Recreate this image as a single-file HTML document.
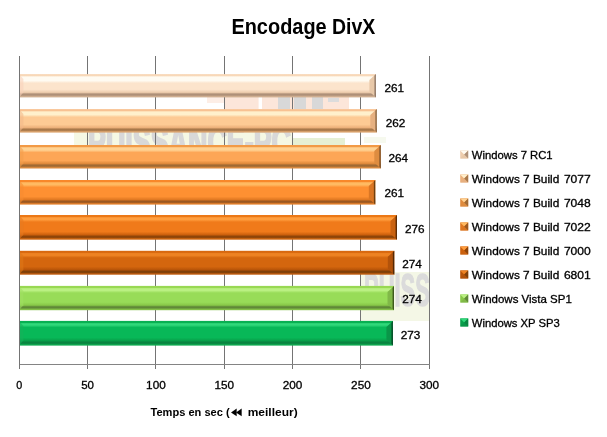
<!DOCTYPE html>
<html lang="fr"><head><meta charset="utf-8"><title>Encodage DivX</title>
<style>html,body{margin:0;padding:0;background:#fff;}body{width:607px;height:437px;overflow:hidden;}svg{display:block;}text{font-family:'Liberation Sans', Arial, sans-serif;fill:#000;}.r text{stroke:#000;stroke-width:0.3px;}</style>
</head><body>
<svg width="607" height="437" viewBox="0 0 607 437">
<defs>
<linearGradient id="g0" x1="0" y1="0" x2="0" y2="1"><stop offset="0.0000" stop-color="#F8D8B8"/><stop offset="0.0687" stop-color="#F8D8B8"/><stop offset="0.1202" stop-color="#FFFBF2"/><stop offset="0.2833" stop-color="#FFFBF2"/><stop offset="0.3863" stop-color="#FCE4CC"/><stop offset="0.6567" stop-color="#FCE4CC"/><stop offset="0.7854" stop-color="#EECDAE"/><stop offset="0.8541" stop-color="#AE9078"/><stop offset="0.9013" stop-color="#AE9078"/><stop offset="0.9614" stop-color="#CFAE90"/><stop offset="1.0000" stop-color="#CFAE90"/></linearGradient>
<linearGradient id="r0" x1="0" y1="0" x2="1" y2="0"><stop offset="0" stop-color="#E8C8A8"/><stop offset="0.7" stop-color="#E8C8A8"/><stop offset="0.86" stop-color="#8E7664"/><stop offset="1" stop-color="#8E7664"/></linearGradient>
<linearGradient id="g1" x1="0" y1="0" x2="0" y2="1"><stop offset="0.0000" stop-color="#F8C292"/><stop offset="0.0681" stop-color="#F8C292"/><stop offset="0.1191" stop-color="#FFF0CC"/><stop offset="0.2383" stop-color="#FFF0CC"/><stop offset="0.3404" stop-color="#FDCA94"/><stop offset="0.6596" stop-color="#FDCA94"/><stop offset="0.7872" stop-color="#ECB07A"/><stop offset="0.8553" stop-color="#A8784A"/><stop offset="0.9021" stop-color="#A8784A"/><stop offset="0.9617" stop-color="#DCA46E"/><stop offset="1.0000" stop-color="#DCA46E"/></linearGradient>
<linearGradient id="r1" x1="0" y1="0" x2="1" y2="0"><stop offset="0" stop-color="#E6B080"/><stop offset="0.7" stop-color="#E6B080"/><stop offset="0.86" stop-color="#8A6644"/><stop offset="1" stop-color="#8A6644"/></linearGradient>
<linearGradient id="g2" x1="0" y1="0" x2="0" y2="1"><stop offset="0.0000" stop-color="#F29A46"/><stop offset="0.0681" stop-color="#F29A46"/><stop offset="0.1191" stop-color="#FFD292"/><stop offset="0.2170" stop-color="#FFD292"/><stop offset="0.3191" stop-color="#FDA656"/><stop offset="0.6596" stop-color="#FDA656"/><stop offset="0.7872" stop-color="#E08A3C"/><stop offset="0.8553" stop-color="#A06A34"/><stop offset="0.9021" stop-color="#A06A34"/><stop offset="0.9617" stop-color="#DA8A40"/><stop offset="1.0000" stop-color="#DA8A40"/></linearGradient>
<linearGradient id="r2" x1="0" y1="0" x2="1" y2="0"><stop offset="0" stop-color="#DE8C40"/><stop offset="0.7" stop-color="#DE8C40"/><stop offset="0.86" stop-color="#7C5028"/><stop offset="1" stop-color="#7C5028"/></linearGradient>
<linearGradient id="g3" x1="0" y1="0" x2="0" y2="1"><stop offset="0.0000" stop-color="#F8882A"/><stop offset="0.0650" stop-color="#F8882A"/><stop offset="0.1138" stop-color="#FFBA62"/><stop offset="0.1951" stop-color="#FFBA62"/><stop offset="0.2927" stop-color="#FE9032"/><stop offset="0.6748" stop-color="#FE9032"/><stop offset="0.7967" stop-color="#E07822"/><stop offset="0.8618" stop-color="#9C5820"/><stop offset="0.9065" stop-color="#9C5820"/><stop offset="0.9634" stop-color="#E4802A"/><stop offset="1.0000" stop-color="#E4802A"/></linearGradient>
<linearGradient id="r3" x1="0" y1="0" x2="1" y2="0"><stop offset="0" stop-color="#DA7624"/><stop offset="0.7" stop-color="#DA7624"/><stop offset="0.86" stop-color="#70400F"/><stop offset="1" stop-color="#70400F"/></linearGradient>
<linearGradient id="g4" x1="0" y1="0" x2="0" y2="1"><stop offset="0.0000" stop-color="#EC7816"/><stop offset="0.0648" stop-color="#EC7816"/><stop offset="0.1134" stop-color="#FF9E3E"/><stop offset="0.1862" stop-color="#FF9E3E"/><stop offset="0.2834" stop-color="#F07A1A"/><stop offset="0.6761" stop-color="#F07A1A"/><stop offset="0.7976" stop-color="#CC600C"/><stop offset="0.8623" stop-color="#8E4408"/><stop offset="0.9069" stop-color="#8E4408"/><stop offset="0.9636" stop-color="#D06812"/><stop offset="1.0000" stop-color="#D06812"/></linearGradient>
<linearGradient id="r4" x1="0" y1="0" x2="1" y2="0"><stop offset="0" stop-color="#CA6210"/><stop offset="0.7" stop-color="#CA6210"/><stop offset="0.86" stop-color="#5E2C04"/><stop offset="1" stop-color="#5E2C04"/></linearGradient>
<linearGradient id="g5" x1="0" y1="0" x2="0" y2="1"><stop offset="0.0000" stop-color="#D8680F"/><stop offset="0.0669" stop-color="#D8680F"/><stop offset="0.1172" stop-color="#EE8222"/><stop offset="0.1925" stop-color="#EE8222"/><stop offset="0.2929" stop-color="#D4660E"/><stop offset="0.6653" stop-color="#D4660E"/><stop offset="0.7908" stop-color="#B85408"/><stop offset="0.8577" stop-color="#804008"/><stop offset="0.9038" stop-color="#804008"/><stop offset="0.9623" stop-color="#C05C0E"/><stop offset="1.0000" stop-color="#C05C0E"/></linearGradient>
<linearGradient id="r5" x1="0" y1="0" x2="1" y2="0"><stop offset="0" stop-color="#B2520A"/><stop offset="0.7" stop-color="#B2520A"/><stop offset="0.86" stop-color="#542804"/><stop offset="1" stop-color="#542804"/></linearGradient>
<linearGradient id="g6" x1="0" y1="0" x2="0" y2="1"><stop offset="0.0000" stop-color="#98D852"/><stop offset="0.0658" stop-color="#98D852"/><stop offset="0.1152" stop-color="#BAF082"/><stop offset="0.1893" stop-color="#BAF082"/><stop offset="0.2881" stop-color="#98DC58"/><stop offset="0.6708" stop-color="#98DC58"/><stop offset="0.7942" stop-color="#88C848"/><stop offset="0.8601" stop-color="#608838"/><stop offset="0.9053" stop-color="#608838"/><stop offset="0.9630" stop-color="#84C048"/><stop offset="1.0000" stop-color="#84C048"/></linearGradient>
<linearGradient id="r6" x1="0" y1="0" x2="1" y2="0"><stop offset="0" stop-color="#80B848"/><stop offset="0.7" stop-color="#80B848"/><stop offset="0.86" stop-color="#3E5A1E"/><stop offset="1" stop-color="#3E5A1E"/></linearGradient>
<linearGradient id="g7" x1="0" y1="0" x2="0" y2="1"><stop offset="0.0000" stop-color="#08B052"/><stop offset="0.0648" stop-color="#08B052"/><stop offset="0.1134" stop-color="#30D87A"/><stop offset="0.1660" stop-color="#30D87A"/><stop offset="0.2632" stop-color="#08B858"/><stop offset="0.6761" stop-color="#08B858"/><stop offset="0.7976" stop-color="#08A04A"/><stop offset="0.8623" stop-color="#098440"/><stop offset="0.9069" stop-color="#098440"/><stop offset="0.9636" stop-color="#0EAA50"/><stop offset="1.0000" stop-color="#0EAA50"/></linearGradient>
<linearGradient id="r7" x1="0" y1="0" x2="1" y2="0"><stop offset="0" stop-color="#0A9648"/><stop offset="0.7" stop-color="#0A9648"/><stop offset="0.86" stop-color="#044824"/><stop offset="1" stop-color="#044824"/></linearGradient>
</defs>
<rect width="607" height="437" fill="#fff"/>
<clipPath id="pc"><rect x="20" y="56" width="409" height="308"/></clipPath>
<g id="wm" clip-path="url(#pc)">
<rect x="207" y="97" width="18" height="6" fill="#FDEEE6"/>
<rect x="225" y="97" width="124" height="12" fill="#FCE6DA"/>
<rect x="258.6" y="97" width="3.4" height="12" fill="#fff"/>
<rect x="278" y="97" width="12" height="12" fill="#D8D8D8"/>
<rect x="294" y="97" width="12" height="12" fill="#D8D8D8"/>
<rect x="312" y="97" width="11" height="12" fill="#D8D8D8"/>
<rect x="328" y="98" width="11" height="4" fill="#DCDCDC"/>
<rect x="74" y="132" width="219" height="13" fill="#F5F8E4"/>
<text x="88" y="159" font-size="48" font-weight="bold" textLength="203" lengthAdjust="spacingAndGlyphs" style="fill:#D8D8D8;stroke:#D8D8D8;stroke-width:2.5">PUISSANCE-PC</text>
<rect x="293" y="138" width="52" height="7" fill="#E6F0D4"/>
<rect x="364" y="137" width="22" height="6" fill="#F6F9EE"/>
<rect x="360" y="272" width="69" height="49" fill="#F4F7E6"/>
<text x="364" y="306" font-size="47" font-weight="bold" textLength="128" lengthAdjust="spacingAndGlyphs" style="fill:#DBDBDB;stroke:#DBDBDB;stroke-width:1.5">PUISSANCE</text>
</g>
<rect x="19" y="56" width="1" height="313" fill="#747474"/>
<rect x="87" y="56" width="1" height="313" fill="#747474"/>
<rect x="155" y="56" width="1" height="313" fill="#747474"/>
<rect x="224" y="56" width="1" height="313" fill="#747474"/>
<rect x="292" y="56" width="1" height="313" fill="#747474"/>
<rect x="360" y="56" width="1" height="313" fill="#747474"/>
<rect x="429" y="56" width="1" height="313" fill="#747474"/>
<rect x="19" y="364" width="411" height="1" fill="#848484"/>
<rect x="19.40" y="74.10" width="356.50" height="23.30" fill="url(#g0)"/>
<polygon points="19.40,74.60 23.40,79.10 23.40,92.40 19.40,96.90" fill="#F8D2BA" opacity="0.6"/>
<polygon points="369.40,80.10 375.90,74.10 375.90,97.40 369.40,91.40" fill="url(#r0)"/>
<g class="r"><text x="384.40" y="91.60" font-size="11" textLength="19.6" lengthAdjust="spacingAndGlyphs">261</text></g>
<rect x="19.40" y="109.10" width="357.40" height="23.50" fill="url(#g1)"/>
<polygon points="19.40,109.60 23.40,114.10 23.40,127.60 19.40,132.10" fill="#F4B98A" opacity="0.6"/>
<polygon points="370.30,115.10 376.80,109.10 376.80,132.60 370.30,126.60" fill="url(#r1)"/>
<g class="r"><text x="385.77" y="126.89" font-size="11" textLength="19.6" lengthAdjust="spacingAndGlyphs">262</text></g>
<rect x="19.40" y="145.00" width="361.40" height="23.50" fill="url(#g2)"/>
<polygon points="19.40,145.50 23.40,150.00 23.40,163.50 19.40,168.00" fill="#F49E4C" opacity="0.6"/>
<polygon points="374.30,151.00 380.80,145.00 380.80,168.50 374.30,162.50" fill="url(#r2)"/>
<g class="r"><text x="388.50" y="162.17" font-size="11" textLength="19.6" lengthAdjust="spacingAndGlyphs">264</text></g>
<rect x="19.40" y="180.00" width="355.90" height="24.60" fill="url(#g3)"/>
<polygon points="19.40,180.50 23.40,185.00 23.40,199.60 19.40,204.10" fill="#F68C30" opacity="0.6"/>
<polygon points="368.80,186.00 375.30,180.00 375.30,204.60 368.80,198.60" fill="url(#r3)"/>
<g class="r"><text x="384.40" y="197.46" font-size="11" textLength="19.6" lengthAdjust="spacingAndGlyphs">261</text></g>
<rect x="19.40" y="215.00" width="377.60" height="24.70" fill="url(#g4)"/>
<polygon points="19.40,215.50 23.40,220.00 23.40,234.70 19.40,239.20" fill="#E87A20" opacity="0.6"/>
<polygon points="390.50,221.00 397.00,215.00 397.00,239.70 390.50,233.70" fill="url(#r4)"/>
<g class="r"><text x="404.90" y="232.74" font-size="11" textLength="19.6" lengthAdjust="spacingAndGlyphs">276</text></g>
<rect x="19.40" y="250.80" width="374.90" height="23.90" fill="url(#g5)"/>
<polygon points="19.40,251.30 23.40,255.80 23.40,269.70 19.40,274.20" fill="#DE7618" opacity="0.6"/>
<polygon points="387.80,256.80 394.30,250.80 394.30,274.70 387.80,268.70" fill="url(#r5)"/>
<g class="r"><text x="402.17" y="268.03" font-size="11" textLength="19.6" lengthAdjust="spacingAndGlyphs">274</text></g>
<rect x="19.40" y="285.90" width="374.60" height="24.30" fill="url(#g6)"/>
<polygon points="19.40,286.40 23.40,290.90 23.40,305.20 19.40,309.70" fill="#A0E062" opacity="0.6"/>
<polygon points="387.50,291.90 394.00,285.90 394.00,310.20 387.50,304.20" fill="url(#r6)"/>
<g class="r"><text x="402.17" y="303.32" font-size="11" textLength="19.6" lengthAdjust="spacingAndGlyphs">274</text></g>
<rect x="19.40" y="320.90" width="373.50" height="24.70" fill="url(#g7)"/>
<polygon points="19.40,321.40 23.40,325.90 23.40,340.60 19.40,345.10" fill="#16B05A" opacity="0.6"/>
<polygon points="386.40,326.90 392.90,320.90 392.90,345.60 386.40,339.60" fill="url(#r7)"/>
<g class="r"><text x="400.80" y="338.60" font-size="11" textLength="19.6" lengthAdjust="spacingAndGlyphs">273</text></g>
<rect x="19" y="56" width="1" height="313" fill="#747474"/>
<text x="231.4" y="33.5" font-size="22.2" font-weight="bold" textLength="95.3" lengthAdjust="spacingAndGlyphs">Encodage</text>
<text x="332.0" y="33.5" font-size="22.2" font-weight="bold" textLength="43.3" lengthAdjust="spacingAndGlyphs">DivX</text>
<g class="r">
<text x="19.25" y="389" font-size="11" text-anchor="middle" textLength="6.0" lengthAdjust="spacingAndGlyphs">0</text>
<text x="87.58" y="389" font-size="11" text-anchor="middle" textLength="12.8" lengthAdjust="spacingAndGlyphs">50</text>
<text x="155.92" y="389" font-size="11" text-anchor="middle" textLength="19.6" lengthAdjust="spacingAndGlyphs">100</text>
<text x="224.25" y="389" font-size="11" text-anchor="middle" textLength="19.6" lengthAdjust="spacingAndGlyphs">150</text>
<text x="292.58" y="389" font-size="11" text-anchor="middle" textLength="19.6" lengthAdjust="spacingAndGlyphs">200</text>
<text x="360.92" y="389" font-size="11" text-anchor="middle" textLength="19.6" lengthAdjust="spacingAndGlyphs">250</text>
<text x="429.25" y="389" font-size="11" text-anchor="middle" textLength="19.6" lengthAdjust="spacingAndGlyphs">300</text>
</g>
<text x="150.5" y="415.6" font-size="11" font-weight="bold" textLength="79.1" lengthAdjust="spacingAndGlyphs">Temps en sec (</text>
<g font-family="'DejaVu Sans', sans-serif" font-size="10.3"><text transform="translate(231.4,414.6) scale(0.74,1)">&#9664;</text><text transform="translate(235.5,414.6) scale(0.74,1)">&#9664;</text></g>
<text x="247.7" y="415.6" font-size="11" font-weight="bold" textLength="50.0" lengthAdjust="spacingAndGlyphs">meilleur)</text>
<g class="r">
<rect x="460.20" y="150.40" width="8.0" height="8.0" fill="#EECDAE"/>
<polygon points="460.20,150.40 468.20,150.40 464.20,154.40" fill="#FFFBF2"/>
<polygon points="460.20,158.40 468.20,158.40 464.20,154.40" fill="#E8C8A8"/>
<polygon points="468.20,150.40 468.20,158.40 464.20,154.40" fill="#AE9078"/>
<text x="471.8" y="159.00" font-size="11" textLength="80.8" lengthAdjust="spacingAndGlyphs">Windows 7 RC1</text>
<rect x="460.20" y="174.40" width="8.0" height="8.0" fill="#ECB07A"/>
<polygon points="460.20,174.40 468.20,174.40 464.20,178.40" fill="#FFF0CC"/>
<polygon points="460.20,182.40 468.20,182.40 464.20,178.40" fill="#E6B080"/>
<polygon points="468.20,174.40 468.20,182.40 464.20,178.40" fill="#A8784A"/>
<text x="471.8" y="183.00" font-size="11" textLength="87.5" lengthAdjust="spacingAndGlyphs">Windows 7 Build</text>
<text x="563.9" y="183.00" font-size="11" textLength="26.9" lengthAdjust="spacingAndGlyphs">7077</text>
<rect x="460.20" y="198.40" width="8.0" height="8.0" fill="#E08A3C"/>
<polygon points="460.20,198.40 468.20,198.40 464.20,202.40" fill="#FFD292"/>
<polygon points="460.20,206.40 468.20,206.40 464.20,202.40" fill="#DE8C40"/>
<polygon points="468.20,198.40 468.20,206.40 464.20,202.40" fill="#A06A34"/>
<text x="471.8" y="207.00" font-size="11" textLength="87.5" lengthAdjust="spacingAndGlyphs">Windows 7 Build</text>
<text x="563.9" y="207.00" font-size="11" textLength="26.9" lengthAdjust="spacingAndGlyphs">7048</text>
<rect x="460.20" y="222.40" width="8.0" height="8.0" fill="#E07822"/>
<polygon points="460.20,222.40 468.20,222.40 464.20,226.40" fill="#FFBA62"/>
<polygon points="460.20,230.40 468.20,230.40 464.20,226.40" fill="#DA7624"/>
<polygon points="468.20,222.40 468.20,230.40 464.20,226.40" fill="#9C5820"/>
<text x="471.8" y="231.00" font-size="11" textLength="87.5" lengthAdjust="spacingAndGlyphs">Windows 7 Build</text>
<text x="563.9" y="231.00" font-size="11" textLength="26.9" lengthAdjust="spacingAndGlyphs">7022</text>
<rect x="460.20" y="246.40" width="8.0" height="8.0" fill="#CC600C"/>
<polygon points="460.20,246.40 468.20,246.40 464.20,250.40" fill="#FF9E3E"/>
<polygon points="460.20,254.40 468.20,254.40 464.20,250.40" fill="#CA6210"/>
<polygon points="468.20,246.40 468.20,254.40 464.20,250.40" fill="#8E4408"/>
<text x="471.8" y="255.00" font-size="11" textLength="87.5" lengthAdjust="spacingAndGlyphs">Windows 7 Build</text>
<text x="563.9" y="255.00" font-size="11" textLength="26.9" lengthAdjust="spacingAndGlyphs">7000</text>
<rect x="460.20" y="270.40" width="8.0" height="8.0" fill="#B85408"/>
<polygon points="460.20,270.40 468.20,270.40 464.20,274.40" fill="#EE8222"/>
<polygon points="460.20,278.40 468.20,278.40 464.20,274.40" fill="#B2520A"/>
<polygon points="468.20,270.40 468.20,278.40 464.20,274.40" fill="#804008"/>
<text x="471.8" y="279.00" font-size="11" textLength="87.5" lengthAdjust="spacingAndGlyphs">Windows 7 Build</text>
<text x="563.9" y="279.00" font-size="11" textLength="26.9" lengthAdjust="spacingAndGlyphs">6801</text>
<rect x="460.20" y="294.40" width="8.0" height="8.0" fill="#88C848"/>
<polygon points="460.20,294.40 468.20,294.40 464.20,298.40" fill="#BAF082"/>
<polygon points="460.20,302.40 468.20,302.40 464.20,298.40" fill="#80B848"/>
<polygon points="468.20,294.40 468.20,302.40 464.20,298.40" fill="#608838"/>
<text x="471.8" y="303.00" font-size="11" textLength="100.0" lengthAdjust="spacingAndGlyphs">Windows Vista SP1</text>
<rect x="460.20" y="318.40" width="8.0" height="8.0" fill="#08A04A"/>
<polygon points="460.20,318.40 468.20,318.40 464.20,322.40" fill="#30D87A"/>
<polygon points="460.20,326.40 468.20,326.40 464.20,322.40" fill="#0A9648"/>
<polygon points="468.20,318.40 468.20,326.40 464.20,322.40" fill="#098440"/>
<text x="471.8" y="327.00" font-size="11" textLength="88.0" lengthAdjust="spacingAndGlyphs">Windows XP SP3</text>
</g>
</svg>
</body></html>
